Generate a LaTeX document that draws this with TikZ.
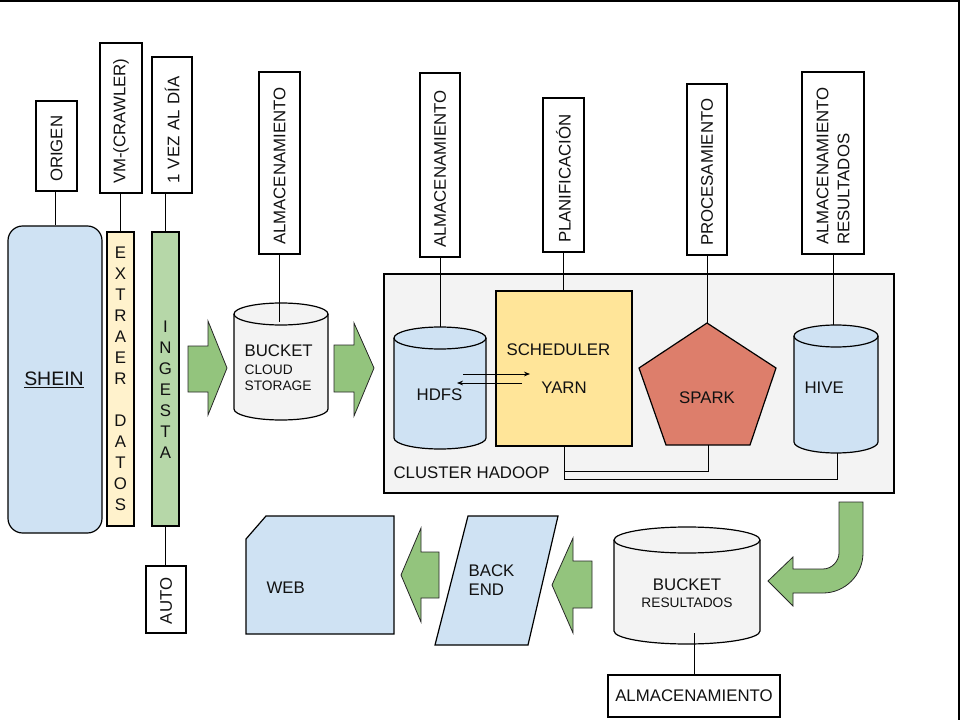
\documentclass[tikz,border=0pt]{standalone}
\usepackage{fontspec}
\setmainfont{Liberation Sans}
\usetikzlibrary{arrows.meta,calc}
\definecolor{lblue}{HTML}{CFE2F3}
\definecolor{lyellow}{HTML}{FFF2CC}
\definecolor{lgreen}{HTML}{B6D7A8}
\definecolor{agreen}{HTML}{93C47D}
\definecolor{lgray}{HTML}{F3F3F3}
\definecolor{schedc}{HTML}{FFE599}
\definecolor{sparkc}{HTML}{DD7E6B}
\definecolor{txtc}{HTML}{111111}
\newcommand\mycyl[6]{%
  \pgfmathsetmacro\cylrx{(#2-#1)/2}%
  \path[draw=black, fill=#6] (#1,#3+#5) -- (#1,#4-#5)
     arc[start angle=180, end angle=0, x radius=\cylrx, y radius=#5]
     -- (#2,#3+#5)
     arc[start angle=0, end angle=-180, x radius=\cylrx, y radius=#5] -- cycle;
  \draw (#1,#3+#5) arc[start angle=180, end angle=0, x radius=\cylrx, y radius=#5];
}
\tikzset{
  mainf/.style={font=\fontsize{12.6}{15.75}\selectfont},
  smallf/.style={font=\fontsize{10.3}{12}\selectfont},
  vlab/.style={draw=black, fill=white, rotate=90, align=left, inner xsep=6.75pt,
     inner ysep=0pt, text=txtc, mainf},
  txt/.style={inner sep=0pt, text=txtc, mainf},
  stxt/.style={inner sep=0pt, text=txtc, smallf},
  bigarrow/.style={draw=black!85, line width=0.6pt, fill=agreen},
  conn/.style={draw=black, line width=0.7pt},
  tiny/.style={draw=black, line width=0.6pt, -{Stealth[length=4.5pt,width=3.5pt]}},
}
\begin{document}
\begin{tikzpicture}[x=0.75pt, y=-0.75pt, line width=0.9pt]
\useasboundingbox (0,0) rectangle (960,720);
% frame lines
\draw[line width=1.1pt] (0,1) -- (959,1) -- (959,720);

% left column
\node[draw=black, fill=lblue, rounded corners=11pt, minimum width=70.5pt,
      minimum height=230.25pt, inner sep=0pt] (shein) at (55,379.5) {};
\node[inner sep=0pt, text=txtc, font=\fontsize{14.6}{16}\selectfont] (sheint) at (54,380) {\underline{SHEIN}};
\node[draw=black, fill=lyellow, minimum width=20.25pt, minimum height=220.5pt,
      inner sep=0pt] (extraer) at (120.5,379) {};
\node[txt, align=center] (extt) at (120.5,379)
   {E\\X\\T\\R\\A\\E\\R\\\mbox{}\\D\\A\\T\\O\\S};
\node[draw=black, fill=lgreen, minimum width=20.25pt, minimum height=220.5pt,
      inner sep=0pt] (ingesta) at (165.5,379) {};
\node[txt, align=center] (ingt) at (165.5,390) {I\\N\\G\\E\\S\\T\\A};

% vertical labels
\node[vlab, text width=54pt, minimum height=30.75pt] (origen) at (56.5,146) {ORIGEN};
\node[vlab, text width=99pt, minimum height=31.5pt] (vm) at (121,118) {VM-(CRAWLER)};
\node[vlab, text width=88.5pt, minimum height=30pt] (vez) at (172,125) {1 VEZ AL DÍA};
\node[vlab, text width=36.75pt, minimum height=30pt] (auto) at (166,599.5) {AUTO};
\node[vlab, text width=123pt, minimum height=30.75pt] (alma) at (279.5,163) {ALMACENAMIENTO};
\node[vlab, text width=124.5pt, minimum height=30pt] (almb) at (440,165) {ALMACENAMIENTO};
\node[vlab, text width=102pt, minimum height=30.75pt] (plan) at (563.5,175) {PLANIFICACIÓN};
\node[vlab, text width=114.75pt, minimum height=30pt] (proc) at (707,169.5) {PROCESAMIENTO};
\node[vlab, text width=123pt, minimum height=46.5pt] (almr) at (833,163) {ALMACENAMIENTO\\RESULTADOS};

\draw[conn] (shein.north) -- (shein.north |- origen.west);
\draw[conn] (extraer.north) -- (extraer.north |- vm.west);
\draw[conn] (ingesta.north) -- (ingesta.north |- vez.west);
\draw[conn] (ingesta.south) -- (ingesta.south |- auto.east);

% arrows right
\draw[bigarrow] (188,346) -- (208,346) -- (208,321) -- (227,368) -- (208,415) -- (208,392) -- (188,392) -- cycle;
\draw[bigarrow] (334,345) -- (354,345) -- (354,323) -- (374,368) -- (354,416) -- (354,392) -- (334,392) -- cycle;

% bucket cloud storage
\mycyl{234}{328}{303}{420}{11}{lgray}
\coordinate (bcstop) at (281,322);
\node[txt, anchor=west] (bcs) at (244,351) {BUCKET};
\node[stxt, anchor=west, align=left] (bcs2) at (244,378) {CLOUD\\STORAGE};
\draw[conn] (alma.west) -- (alma.west |- bcstop);

% cluster
\node[draw=black, fill=lgray, minimum width=382.5pt, minimum height=164.25pt,
      inner sep=0pt] (cluster) at (639,383.5) {};
\node[txt, anchor=west] (clust) at (393,473) {CLUSTER HADOOP};

\mycyl{394}{486}{327}{449}{11}{lblue}
\coordinate (hdfstop) at (439,327);
\node[txt] (hdfs) at (439.5,395) {HDFS};

\node[draw=black, fill=schedc, minimum width=102pt, minimum height=116.25pt,
      inner sep=0pt] (sched) at (564,368.5) {};
\node[txt, anchor=west] (schedt) at (506,350) {SCHEDULER};
\node[txt] (yarn) at (564,388) {YARN};

\coordinate (sparktop) at (707,323);
\coordinate (sparkbot) at (708,445);
\draw[fill=sparkc, draw=black] (707,323) -- (776,368) -- (750,445) -- (666,445) -- (639,368) -- cycle;
\node[txt] (spark) at (707,398) {SPARK};

\mycyl{794}{878}{325}{453}{11}{lblue}
\coordinate (hivetop) at (833,325);
\coordinate (hivebot) at (837,453);
\node[txt, anchor=west] (hive) at (804,388) {HIVE};

\draw[conn] (almb.west) -- (almb.west |- hdfstop);
\draw[conn] (plan.west) -- (plan.west |- sched.north);
\draw[conn] (proc.west) -- (proc.west |- sparktop);
\draw[conn] (almr.west) -- (almr.west |- hivetop);

\draw[conn] (sched.south) -- ++(0,25) -| (sparkbot);
\draw[conn] (sched.south) -- ++(0,33) -| (hivebot);

\coordinate (ha1) at (463,374);
\coordinate (ya1) at (530,374);
\coordinate (ya2) at (522,383);
\coordinate (ha2) at (457,383);
\draw[tiny] (ha1) -- (ya1);
\draw[tiny] (ya2) -- (ha2);

% curved arrow
\draw[bigarrow] (839,502) -- (863,502) -- (863,553) .. controls (863,575) and (845,593) .. (823,593)
  -- (793,593) -- (793,606) -- (768,581) -- (793,557) -- (793,569) -- (823,569)
  .. controls (832,569) and (839,561) .. (839,553) -- cycle;

% bottom row
\mycyl{614}{760}{527}{644}{13}{lgray}
\coordinate (bresbot) at (694,633);
\node[txt] (bres1) at (687,585) {BUCKET};
\node[stxt] (bres2) at (687,603) {RESULTADOS};
\node[draw=black, fill=white, minimum width=129pt, minimum height=31.5pt, inner sep=0pt,
      text=txtc, mainf] (almbot) at (694,696) {ALMACENAMIENTO};
\draw[conn] (bresbot) -- (bresbot |- almbot.north);

\draw[bigarrow] (592,561) -- (573,561) -- (573,538) -- (552,585) -- (573,633) -- (573,608) -- (592,608) -- cycle;

\draw[draw=black, fill=lblue] (468,516) -- (558,516) -- (528,645) -- (435,645) -- cycle;
\node[txt, anchor=west, align=left, font=\fontsize{12.6}{14.6}\selectfont] (backt) at (468,580) {BACK\\END};

\draw[bigarrow] (439,552) -- (421,552) -- (421,528) -- (401,575) -- (421,622) -- (421,598) -- (439,598) -- cycle;

\draw[draw=black, fill=lblue] (266,516) -- (394,516) -- (394,634) -- (246,634) -- (246,539) -- cycle;
\node[txt, anchor=west] (webt) at (266,588) {WEB};
\end{tikzpicture}
\end{document}
